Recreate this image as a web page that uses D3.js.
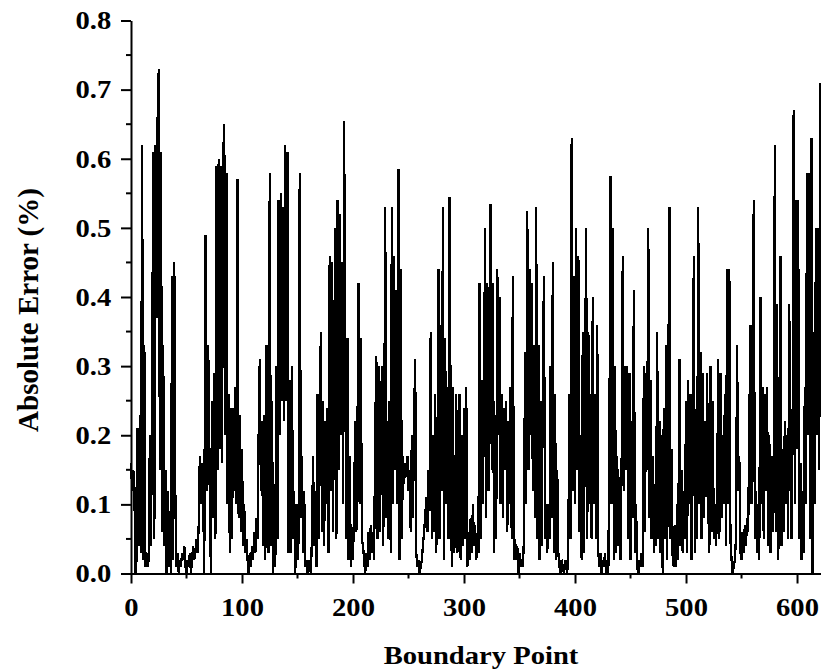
<!DOCTYPE html>
<html>
<head>
<meta charset="utf-8">
<script src="https://cdn.jsdelivr.net/npm/d3@7"></script>
<style>
  html, body { margin: 0; padding: 0; background: #fff; }
  svg { display: block; }
  text { font-family: "Liberation Serif", "Times New Roman", serif; font-weight: bold; fill: #000; }
</style>
</head>
<body>
<svg id="chart" width="821" height="670"></svg>
<script>
// ---- data ----
const xLabel = "Boundary Point";
const yLabel = "Absolute Error (%)";
const xTicks = [0, 100, 200, 300, 400, 500, 600];
const yTicks = [0.0, 0.1, 0.2, 0.3, 0.4, 0.5, 0.6, 0.7, 0.8];
const xMinorTicks = [50, 150, 250, 350, 450, 550];
const yMinorTicks = [0.05, 0.15, 0.25, 0.35, 0.45, 0.55, 0.65, 0.75];
// absolute error at each boundary point, index = boundary point number
const absError = [
  0.16,0.12,0.15,0.13,0.00,0.02,0.21,0.04,0.23,0.03,
  0.62,0.02,0.33,0.01,0.03,0.01,0.02,0.20,0.04,0.25,
  0.61,0.05,0.62,0.37,0.66,0.73,0.15,0.61,0.06,0.33,
  0.04,0.15,0.00,0.12,0.01,0.09,0.00,0.43,0.02,0.45,
  0.10,0.01,0.03,0.00,0.02,0.01,0.03,0.02,0.04,0.01,
  0.00,0.02,0.01,0.03,0.00,0.02,0.04,0.02,0.03,0.05,
  0.03,0.07,0.17,0.10,0.16,0.11,0.00,0.49,0.12,0.33,
  0.30,0.10,0.00,0.25,0.08,0.29,0.05,0.59,0.15,0.60,
  0.18,0.59,0.16,0.60,0.65,0.20,0.58,0.10,0.26,0.03,
  0.24,0.05,0.24,0.12,0.27,0.10,0.57,0.08,0.23,0.06,
  0.18,0.04,0.10,0.03,0.05,0.02,0.00,0.03,0.01,0.04,
  0.02,0.06,0.03,0.08,0.05,0.20,0.31,0.12,0.22,0.04,
  0.23,0.02,0.33,0.10,0.03,0.58,0.04,0.25,0.00,0.13,
  0.01,0.30,0.05,0.54,0.20,0.55,0.25,0.53,0.22,0.62,
  0.25,0.61,0.03,0.28,0.03,0.30,0.05,0.12,0.00,0.10,
  0.02,0.05,0.58,0.08,0.17,0.03,0.12,0.01,0.02,0.00,
  0.01,0.02,0.00,0.05,0.17,0.04,0.12,0.01,0.26,0.05,
  0.20,0.35,0.06,0.25,0.04,0.22,0.10,0.24,0.03,0.46,
  0.12,0.45,0.06,0.30,0.50,0.05,0.54,0.15,0.52,0.20,
  0.45,0.10,0.655,0.30,0.05,0.34,0.02,0.17,0.01,0.05,
  0.02,0.10,0.22,0.06,0.20,0.42,0.10,0.34,0.05,0.04,
  0.02,0.00,0.03,0.01,0.06,0.02,0.07,0.03,0.06,0.02,
  0.20,0.315,0.05,0.30,0.06,0.18,0.30,0.04,0.12,0.53,
  0.08,0.22,0.05,0.25,0.03,0.53,0.10,0.46,0.15,0.41,
  0.10,0.585,0.02,0.44,0.05,0.17,0.13,0.16,0.14,0.17,
  0.12,0.15,0.06,0.20,0.08,0.22,0.31,0.03,0.01,0.02,
  0.00,0.01,0.02,0.04,0.06,0.08,0.11,0.06,0.15,0.09,
  0.35,0.05,0.20,0.06,0.26,0.03,0.15,0.44,0.05,0.36,
  0.12,0.53,0.02,0.34,0.10,0.27,0.05,0.545,0.20,0.01,
  0.27,0.03,0.05,0.26,0.03,0.12,0.26,0.02,0.20,0.04,
  0.24,0.05,0.27,0.01,0.06,0.02,0.08,0.03,0.10,0.04,
  0.07,0.02,0.04,0.03,0.42,0.05,0.28,0.10,0.26,0.50,
  0.08,0.42,0.12,0.40,0.535,0.15,0.42,0.03,0.23,0.05,
  0.44,0.20,0.40,0.10,0.26,0.08,0.24,0.15,0.25,0.06,
  0.22,0.10,0.27,0.05,0.43,0.02,0.05,0.02,0.04,0.00,
  0.03,0.01,0.02,0.01,0.05,0.32,0.10,0.525,0.15,0.44,
  0.20,0.42,0.12,0.33,0.08,0.53,0.05,0.33,0.02,0.25,
  0.04,0.28,0.43,0.05,0.10,0.03,0.10,0.05,0.30,0.08,
  0.45,0.03,0.26,0.02,0.15,0.03,0.01,0.00,0.02,0.01,
  0.00,0.02,0.01,0.00,0.05,0.26,0.05,0.63,0.12,0.43,
  0.10,0.50,0.15,0.46,0.06,0.20,0.02,0.35,0.03,0.25,
  0.50,0.05,0.35,0.10,0.26,0.05,0.40,0.10,0.26,0.05,
  0.36,0.03,0.01,0.03,0.00,0.02,0.01,0.03,0.00,0.02,
  0.00,0.20,0.575,0.10,0.50,0.02,0.30,0.03,0.17,0.04,
  0.14,0.02,0.16,0.46,0.12,0.30,0.15,0.30,0.05,0.29,
  0.02,0.22,0.08,0.41,0.03,0.10,0.01,0.00,0.02,0.01,
  0.03,0.01,0.30,0.06,0.29,0.15,0.50,0.08,0.28,0.05,
  0.17,0.03,0.13,0.04,0.35,0.05,0.22,0.03,0.20,0.00,
  0.24,0.05,0.33,0.02,0.26,0.53,0.05,0.18,0.02,0.01,
  0.07,0.01,0.10,0.02,0.31,0.04,0.15,0.03,0.12,0.05,
  0.25,0.03,0.28,0.10,0.26,0.02,0.15,0.46,0.03,0.12,
  0.05,0.53,0.10,0.32,0.05,0.29,0.08,0.22,0.11,0.29,
  0.10,0.03,0.30,0.06,0.25,0.05,0.10,0.04,0.09,0.31,
  0.05,0.29,0.08,0.20,0.10,0.26,0.04,0.44,0.10,0.44,
  0.05,0.02,0.00,0.01,0.02,0.05,0.33,0.12,0.17,0.03,
  0.02,0.06,0.03,0.07,0.04,0.08,0.06,0.21,0.36,0.10,
  0.20,0.54,0.05,0.12,0.03,0.10,0.02,0.40,0.10,0.27,
  0.05,0.26,0.12,0.27,0.04,0.20,0.03,0.17,0.06,0.10,
  0.62,0.06,0.39,0.02,0.10,0.46,0.04,0.18,0.06,0.22,
  0.10,0.20,0.05,0.39,0.15,0.05,0.20,0.67,0.10,0.54,
  0.18,0.54,0.05,0.16,0.02,0.12,0.03,0.27,0.10,0.58,
  0.20,0.58,0.05,0.63,0.00,0.35,0.10,0.50,0.20,0.50,
  0.15,0.71
];

// ---- layout ----
const svg = d3.select("#chart");
const mLeft = 131, mRight = 821, mTop = 20.5, mBottom = 573.5;
const x = d3.scaleLinear().domain([0, 621.6]).range([mLeft, mRight]);
const y = d3.scaleLinear().domain([0, 0.8]).range([mBottom, mTop]);
const fontSize = 26, stretch = 1.1;

// data line
const line = d3.line().x((d, i) => x(i)).y(d => y(d));
svg.append("path")
  .datum(absError)
  .attr("fill", "none")
  .attr("stroke", "#000")
  .attr("stroke-width", 2.3)
  .attr("stroke-linejoin", "bevel")
  .attr("shape-rendering", "crispEdges")
  .attr("d", line);

// x axis
const gx = svg.append("g").attr("transform", `translate(0,${mBottom})`)
  .call(d3.axisBottom(x).tickValues(xTicks).tickFormat(d3.format("d")).tickSize(10).tickSizeOuter(0).tickPadding(14));
gx.select(".domain").attr("stroke-width", 2);
gx.selectAll(".tick line").attr("stroke-width", 2);
gx.selectAll(".tick text")
  .style("font-size", fontSize + "px")
  .style("font-family", "'Liberation Serif', serif")
  .style("font-weight", "bold")
  .attr("transform", `scale(${stretch},1)`);
svg.append("g").selectAll("line").data(xMinorTicks).join("line")
  .attr("x1", d => x(d)).attr("x2", d => x(d))
  .attr("y1", mBottom).attr("y2", mBottom + 5)
  .attr("stroke", "#000").attr("stroke-width", 2);

// y axis
const gy = svg.append("g").attr("transform", `translate(${mLeft},0)`)
  .call(d3.axisLeft(y).tickValues(yTicks).tickFormat(d3.format(".1f")).tickSize(10).tickSizeOuter(0).tickPadding(8));
gy.select(".domain").attr("stroke-width", 2);
gy.selectAll(".tick line").attr("stroke-width", 2);
gy.selectAll(".tick text")
  .style("font-size", fontSize + "px")
  .style("font-family", "'Liberation Serif', serif")
  .style("font-weight", "bold")
  .attr("transform", `scale(${stretch},1)`);
svg.append("g").selectAll("line").data(yMinorTicks).join("line")
  .attr("x1", mLeft - 5).attr("x2", mLeft)
  .attr("y1", d => y(d)).attr("y2", d => y(d))
  .attr("stroke", "#000").attr("stroke-width", 2);

// axis titles
svg.append("text")
  .attr("transform", `translate(${(mLeft + mRight) / 2 + 5},664) scale(${stretch},1)`)
  .attr("text-anchor", "middle")
  .style("font-size", fontSize + "px")
  .text(xLabel);
svg.append("text")
  .attr("transform", `translate(38,310) rotate(-90)`)
  .attr("text-anchor", "middle")
  .style("font-size", "29px")
  .text(yLabel);
</script>
</body>
</html>
